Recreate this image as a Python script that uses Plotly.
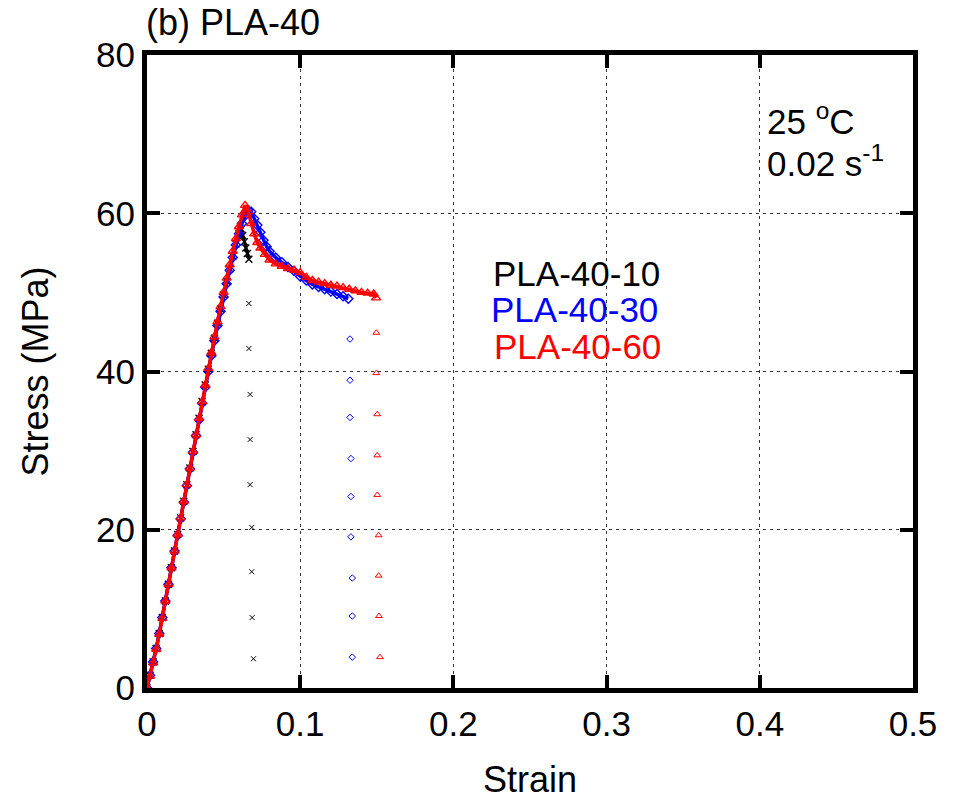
import plotly.graph_objects as go

# ---------------- data ----------------
# PLA-40-10 (black, x markers)
strain_10 = [0, 0.002, 0.004, 0.006, 0.008, 0.010, 0.012, 0.014, 0.016, 0.018, 0.020,
             0.022, 0.024, 0.026, 0.028, 0.030, 0.032, 0.034, 0.036, 0.038, 0.040,
             0.042, 0.044, 0.046, 0.048, 0.050, 0.052, 0.054, 0.056, 0.058, 0.060,
             0.0615, 0.0625, 0.0635, 0.0645, 0.0655, 0.0665]
stress_10 = [0, 1.6, 3.3, 5.0, 6.9, 8.9, 11.0, 13.1, 15.2, 17.3, 19.4,
             21.5, 23.6, 25.7, 27.8, 29.9, 32.0, 34.1, 36.2, 38.3, 40.3,
             42.3, 44.2, 46.1, 47.9, 49.7, 51.4, 53.0, 54.6, 56.1, 57.4,
             58.0, 57.2, 56.4, 55.6, 54.9, 54.2]
fail_strain_10 = [0.0665, 0.0665, 0.0673, 0.0673, 0.0673, 0.0684, 0.0684, 0.0686, 0.0695]
fail_stress_10 = [48.6, 42.9, 37.1, 31.4, 25.7, 20.3, 14.7, 8.9, 3.7]

# PLA-40-30 (blue, diamonds)
strain_30 = [0, 0.002, 0.004, 0.006, 0.008, 0.010, 0.012, 0.014, 0.016, 0.018, 0.020,
             0.022, 0.024, 0.026, 0.028, 0.030, 0.032, 0.034, 0.036, 0.038, 0.040,
             0.042, 0.044, 0.046, 0.048, 0.050, 0.052, 0.054, 0.056, 0.058, 0.060,
             0.062, 0.064, 0.066, 0.068, 0.070, 0.072, 0.074, 0.076, 0.078, 0.080,
             0.084, 0.088, 0.092, 0.096, 0.100, 0.104, 0.108, 0.112, 0.116, 0.120,
             0.124, 0.128, 0.1314]
stress_30 = [0, 1.6, 3.3, 5.0, 6.9, 8.9, 11.0, 13.1, 15.2, 17.3, 19.3,
             21.4, 23.5, 25.6, 27.7, 29.8, 31.9, 33.9, 36.0, 38.0, 40.0,
             42.0, 43.9, 45.8, 47.6, 49.4, 51.1, 52.8, 54.4, 56.0, 57.4,
             58.7, 59.7, 60.4, 60.2, 59.3, 58.5, 57.6, 56.6, 55.8, 55.2,
             54.4, 53.8, 53.2, 52.7, 52.0, 51.5, 51.0, 50.7, 50.4, 50.1,
             49.8, 49.5, 49.2]
fail_strain_30 = [0.1325, 0.1325, 0.1325, 0.1331, 0.1331, 0.1331, 0.1340, 0.1340, 0.1340]
fail_stress_30 = [44.1, 38.9, 34.2, 29.0, 24.2, 19.1, 13.9, 9.1, 3.9]

# PLA-40-60 (red, triangles)
strain_60 = [0, 0.002, 0.004, 0.006, 0.008, 0.010, 0.012, 0.014, 0.016, 0.018, 0.020,
             0.022, 0.024, 0.026, 0.028, 0.030, 0.032, 0.034, 0.036, 0.038, 0.040,
             0.042, 0.044, 0.046, 0.048, 0.050, 0.052, 0.054, 0.056, 0.058, 0.060,
             0.062, 0.064, 0.066, 0.068, 0.070, 0.072, 0.074, 0.077, 0.080, 0.084,
             0.088, 0.092, 0.096, 0.100, 0.104, 0.108, 0.112, 0.116, 0.120, 0.124,
             0.128, 0.132, 0.136, 0.140, 0.144, 0.148, 0.1495]
stress_60 = [0, 1.5, 3.2, 4.9, 6.8, 8.8, 11.0, 13.1, 15.2, 17.3, 19.4,
             21.5, 23.6, 25.7, 27.8, 29.9, 32.0, 34.1, 36.2, 38.3, 40.4,
             42.4, 44.4, 46.3, 48.2, 50.0, 51.8, 53.5, 55.2, 56.8, 58.3,
             59.8, 61.0, 60.2, 58.7, 57.4, 56.3, 55.6, 54.8, 54.1, 53.6,
             53.3, 53.0, 52.8, 52.5, 51.9, 51.5, 51.3, 51.1, 50.9, 50.8,
             50.6, 50.4, 50.2, 50.0, 49.9, 49.8, 49.3]
fail_strain_60 = [0.1497, 0.1497, 0.1503, 0.1503, 0.1503, 0.1512, 0.1512, 0.1514, 0.1521]
fail_stress_60 = [44.9, 39.8, 34.6, 29.4, 24.4, 19.3, 14.2, 9.1, 3.9]

series_names = ["PLA-40-10", "PLA-40-30", "PLA-40-60"]
x_ticks = [0, 0.1, 0.2, 0.3, 0.4, 0.5]
x_tick_text = ["0", "0.1", "0.2", "0.3", "0.4", "0.5"]
y_ticks = [0, 20, 40, 60, 80]

FONT = "Liberation Sans, Arial, sans-serif"

fig = go.Figure()

styles = [
    (strain_10, stress_10, fail_strain_10, fail_stress_10, "black", "x-thin-open", 7, 3),
    (strain_30, stress_30, fail_strain_30, fail_stress_30, "#0000ff", "diamond-open", 7, 3.5),
    (strain_60, stress_60, fail_strain_60, fail_stress_60, "#ff0000", "triangle-up-open", 8, 3.5),
]
for name, (sx, sy, fx, fy, col, sym, sz, lw) in zip(series_names, styles):
    fig.add_trace(go.Scatter(
        x=sx, y=sy, mode="lines+markers", name=name, showlegend=False,
        line=dict(color=col, width=lw),
        marker=dict(symbol=sym, size=sz, color=col, line=dict(color=col, width=1.4)),
        cliponaxis=False,
    ))
    fig.add_trace(go.Scatter(
        x=fx, y=fy, mode="markers", name=name, showlegend=False,
        marker=dict(symbol=sym, size=sz - 2, color=col, line=dict(color=col, width=1)),
        cliponaxis=False,
    ))

axis_common = dict(
    showline=True, linewidth=5, linecolor="black", mirror="ticks",
    ticks="inside", ticklen=13, tickwidth=4, tickcolor="black",
    showgrid=True, gridcolor="#333333", gridwidth=1, griddash="3px,4px",
    zeroline=False, tickfont=dict(family=FONT, size=35, color="black"),
    automargin=False,
)

fig.update_xaxes(range=[0, 0.5], tickvals=x_ticks, ticktext=x_tick_text,
                 title=dict(text="Strain", font=dict(family=FONT, size=36, color="black"), standoff=26),
                 ticklabelstandoff=1, **axis_common)
fig.update_yaxes(range=[0, 80], tickvals=y_ticks,
                 title=dict(text="Stress (MPa)", font=dict(family=FONT, size=36, color="black"), standoff=38),
                 ticklabelstandoff=0, **axis_common)

ann_font = dict(family=FONT, size=35)
annotations = [
    dict(text="(b) PLA-40", xref="paper", yref="paper", x=-0.004, y=1.052,
         xanchor="left", yanchor="middle", showarrow=False, font=dict(family=FONT, size=36, color="black")),
    dict(text="25 <sup>o</sup>C", xref="x", yref="y", x=0.4035, y=71.9,
         xanchor="left", yanchor="middle", showarrow=False, font=dict(ann_font, color="black")),
    dict(text="0.02 s<sup>-1</sup>", xref="x", yref="y", x=0.4035, y=66.6,
         xanchor="left", yanchor="middle", showarrow=False, font=dict(ann_font, color="black")),
    dict(text=series_names[0], xref="x", yref="y", x=0.2245, y=52.4,
         xanchor="left", yanchor="middle", showarrow=False, font=dict(ann_font, color="black")),
    dict(text=series_names[1], xref="x", yref="y", x=0.2235, y=47.8,
         xanchor="left", yanchor="middle", showarrow=False, font=dict(ann_font, color="#0000ff")),
    dict(text=series_names[2], xref="x", yref="y", x=0.2255, y=43.1,
         xanchor="left", yanchor="middle", showarrow=False, font=dict(ann_font, color="#ff0000")),
]

fig.update_layout(
    width=953, height=807,
    margin=dict(l=147, r=40, t=55, b=119, autoexpand=False),
    paper_bgcolor="white", plot_bgcolor="white",
    font=dict(family=FONT, color="black"),
    annotations=annotations,
    showlegend=False,
)

fig.write_html("out.html")
